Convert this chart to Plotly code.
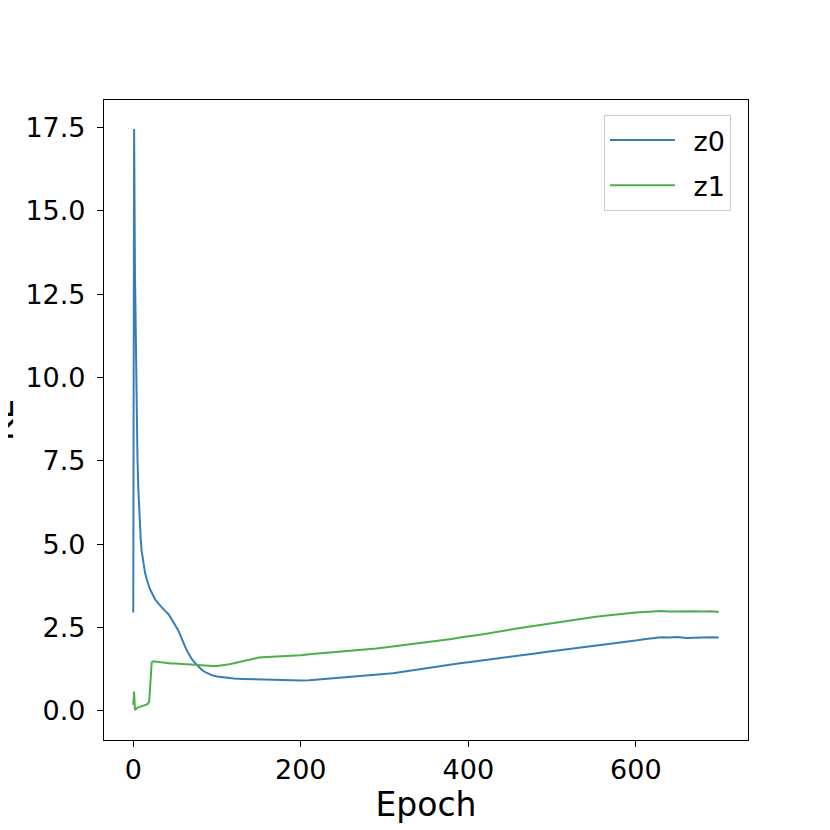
import plotly.graph_objects as go

z0_epoch = [0, 1, 2, 3, 4, 5, 6, 7, 8, 9, 10, 12, 14, 16, 18, 20, 23, 26, 30, 34, 38, 42, 46, 50,
            54, 58, 62, 66, 70, 74, 78, 82, 86, 90, 95, 100, 110, 120, 130, 140, 150, 160, 170,
            180, 190, 200, 210, 220, 230, 240, 250, 260, 270, 280, 290, 300, 310, 320, 330, 340,
            350, 360, 370, 380, 390, 400, 410, 420, 430, 440, 450, 460, 470, 480, 490, 500, 510,
            520, 530, 540, 550, 560, 570, 580, 590, 600, 610, 620, 630, 640, 650, 660, 670, 680,
            690, 699]
z0_kl = [2.95, 17.46, 13.2, 10.6, 8.9, 7.6, 6.7, 6.0, 5.5, 5.1, 4.8, 4.4, 4.15, 3.95, 3.8, 3.65,
         3.5, 3.35, 3.22, 3.1, 3.0, 2.9, 2.75, 2.58, 2.4, 2.15, 1.92, 1.72, 1.55, 1.43, 1.32, 1.23,
         1.16, 1.11, 1.06, 1.03, 0.99, 0.97, 0.96, 0.95, 0.96, 0.95, 0.94, 0.93, 0.92, 0.91, 0.92,
         0.94, 0.96, 0.98, 1.00, 1.02, 1.04, 1.05, 1.07, 1.10, 1.13, 1.17, 1.21, 1.25, 1.29, 1.33,
         1.36, 1.40, 1.43, 1.46, 1.49, 1.52, 1.55, 1.58, 1.61, 1.64, 1.68, 1.72, 1.76, 1.79, 1.82,
         1.86, 1.90, 1.93, 1.96, 1.99, 2.02, 2.05, 2.08, 2.11, 2.15, 2.19, 2.21, 2.20, 2.22, 2.19,
         2.20, 2.21, 2.21, 2.20]

z1_epoch = [0, 1, 2, 3, 5, 8, 11, 14, 17, 19, 20, 21, 22, 24, 27, 30, 35, 40, 45, 50, 55, 60, 65,
            70, 75, 80, 85, 90, 95, 100, 105, 110, 115, 120, 125, 130, 135, 140, 145, 150, 160,
            170, 180, 190, 200, 210, 220, 230, 240, 250, 260, 270, 280, 290, 300, 310, 320, 330,
            340, 350, 360, 370, 380, 390, 400, 410, 420, 430, 440, 450, 460, 470, 480, 490, 500,
            510, 520, 530, 540, 550, 560, 570, 580, 590, 600, 610, 620, 630, 640, 650, 660, 670,
            680, 690, 699]
z1_kl = [0.18, 0.58, 0.03, 0.06, 0.10, 0.12, 0.14, 0.16, 0.20, 0.28, 0.6, 1.2, 1.45, 1.49, 1.48,
         1.46, 1.44, 1.43, 1.42, 1.42, 1.41, 1.40, 1.40, 1.38, 1.37, 1.36, 1.35, 1.34, 1.35, 1.35,
         1.36, 1.38, 1.40, 1.43, 1.46, 1.48, 1.52, 1.55, 1.58, 1.60, 1.62, 1.63, 1.65, 1.66, 1.67,
         1.70, 1.72, 1.74, 1.75, 1.77, 1.80, 1.82, 1.85, 1.87, 1.90, 1.93, 1.96, 1.99, 2.03, 2.07,
         2.10, 2.13, 2.16, 2.20, 2.23, 2.27, 2.31, 2.35, 2.40, 2.44, 2.48, 2.52, 2.56, 2.60, 2.63,
         2.67, 2.71, 2.74, 2.78, 2.82, 2.85, 2.88, 2.91, 2.93, 2.95, 2.97, 2.99, 3.00, 2.98, 2.99,
         2.98, 2.99, 2.98, 2.99, 2.97]

series_names = ["z0", "z1"]
series_colors = ["#377eb8", "#4daf4a"]
x_ticks = [0, 200, 400, 600]
y_ticks = [0.0, 2.5, 5.0, 7.5, 10.0, 12.5, 15.0, 17.5]

FONT = "DejaVu Sans"
GAP = "\u2002"  # visual gap between legend line and label

fig = go.Figure()
for name, xs, ys, col in zip(series_names, [z0_epoch, z1_epoch], [z0_kl, z1_kl], series_colors):
    fig.add_trace(go.Scatter(x=xs, y=ys, mode="lines", name=GAP + name, legendgroup=name,
                             line=dict(color=col, width=2)))

axis_common = dict(showline=True, mirror=True, linecolor="black", linewidth=1.1,
                   ticks="outside", ticklen=6, tickwidth=1.1, tickcolor="black",
                   showgrid=False, zeroline=False,
                   tickfont=dict(family=FONT, size=27, color="black"))

fig.update_layout(
    width=822, height=822,
    margin=dict(l=96, r=82, t=92, b=90),
    paper_bgcolor="white", plot_bgcolor="white",
    font=dict(family=FONT, color="black"),
    xaxis=dict(range=[-34.95, 733.95], tickvals=x_ticks,
               title=dict(text="Epoch", font=dict(family=FONT, size=33, color="black"), standoff=0),
               **axis_common),
    yaxis=dict(range=[-0.873, 18.33], tickvals=y_ticks, tickformat=".1f",
               ticklabelstandoff=6, **axis_common),
    legend=dict(x=0.9736, y=0.9766, xanchor="right", yanchor="top",
                bgcolor="white", bordercolor="#cccccc", borderwidth=1,
                font=dict(family=FONT, size=27, color="black"),
                itemwidth=65, tracegroupgap=7),
    showlegend=True,
)

fig.add_annotation(text="KL", textangle=-90, xref="paper", yref="paper",
                   x=-0.1600, y=0.5, xanchor="center", yanchor="middle", showarrow=False,
                   font=dict(family=FONT, size=33, color="black"))

fig.write_html("out.html")
